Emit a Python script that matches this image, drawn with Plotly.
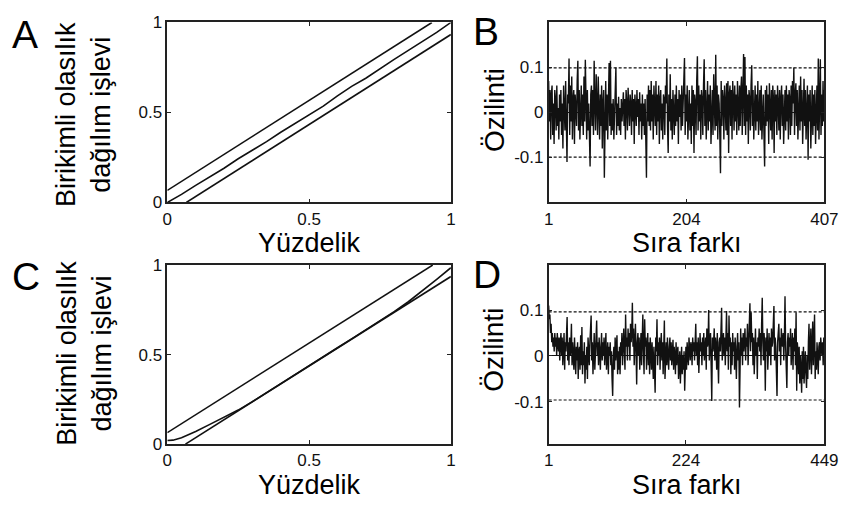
import plotly.graph_objects as go

# ---------------- data ----------------
# Panel A: empirical CDF vs percentile, with KS confidence bounds
pct_A = [0, .05, .1, .15, .2, .25, .3, .35, .4, .45, .5, .55, .6, .65, .7, .75, .8, .85, .9, .95, 1]
cdf_A = [0, .045, .095, .142, .19, .243, .29, .338, .39, .438, .49, .535, .592, .645, .69, .745, .795, .845, .893, .945, 1]
upper_A_x = [0.0, 0.933]
upper_A_y = [0.067, 1.0]
lower_A_x = [0.067, 1.0]
lower_A_y = [0.0, 0.933]

# Panel C
pct_C = [0, .02, .05, .1, .15, .2, .25, .3, .35, .4, .45, .5, .55, .6, .65, .7, .75, .8, .85, .9, .95, 1]
cdf_C = [.02, .022, .035, .07, .11, .15, .19, .237, .288, .337, .387, .437, .487, .538, .588, .638, .69, .74, .795, .855, .92, .985]
upper_C_x = [0.0, 0.936]
upper_C_y = [0.064, 1.0]
lower_C_x = [0.064, 1.0]
lower_C_y = [0.0, 0.936]

# Panel B: autocorrelation, 407 lags
acf_B = [
    0.07, -0.02, 0.05, -0.06, 0.04, 0.06, -0.05, 0.02, -0.07, 0.05,
    0.03, -0.04, 0.06, -0.03, 0.01, -0.06, 0.04, -0.02, 0.05, -0.05,
    0.02, -0.08, 0.06, 0.01, -0.04, 0.07, -0.03, -0.11, 0.04, 0.02,
    0.12, -0.05, 0.06, -0.02, 0.08, -0.06, 0.03, 0.05, -0.07, 0.04,
    0.01, -0.03, 0.07, 0.115, -0.04, 0.05, -0.06, 0.02, 0.06, -0.03,
    0.04, -0.05, 0.08, -0.02, 0.117, 0.03, -0.06, 0.05, -0.04, 0.02,
    -0.07, -0.12, 0.04, 0.06, -0.03, 0.05, -0.05, 0.115, 0.02, -0.04,
    0.085, 0.03, -0.05, 0.08, 0.01, -0.06, 0.04, -0.03, 0.06, -0.08,
    0.02, 0.05, -0.145, 0.03, 0.07, -0.04, 0.04, -0.06, 0.06, 0.11,
    -0.03, 0.115, -0.05, 0.02, -0.04, 0.03, -0.06, 0.01, 0.04, 0.1,
    -0.05, 0.02, -0.03, 0.035, -0.04, 0.01, -0.05, 0.03, -0.02, 0.02,
    0.045, -0.03, 0.03, -0.06, 0.05, 0.02, -0.04, 0.055, 0.01, -0.03,
    0.04, 0.02, -0.05, 0.05, -0.02, 0.03, -0.07, 0.04, 0.01, -0.03,
    0.05, -0.01, 0.03, -0.05, 0.045, -0.02, 0.02, -0.06, 0.04, -0.03,
    0.02, -0.05, 0.03, -0.04, -0.145, 0.04, -0.02, 0.06, -0.03, 0.05,
    -0.04, 0.07, -0.02, 0.04, -0.06, 0.06, 0.02, -0.03, 0.07, -0.05,
    0.04, -0.02, 0.06, -0.07, 0.03, 0.05, -0.04, 0.02, -0.06, 0.04,
    0.03, -0.05, 0.06, 0.02, 0.12, -0.03, -0.09, 0.04, -0.02, 0.085,
    -0.04, 0.03, -0.06, 0.05, 0.01, -0.05, 0.04, -0.03, 0.06, -0.02,
    0.03, -0.07, 0.05, -0.01, 0.04, -0.04, 0.06, -0.03, 0.02, 0.08,
    0.121, -0.05, 0.04, -0.02, 0.06, -0.06, 0.03, 0.05, -0.04, 0.02,
    -0.07, 0.06, -0.03, 0.05, -0.09, 0.04, 0.02, -0.05, 0.07, 0.125,
    -0.04, 0.06, -0.02, 0.04, -0.06, 0.05, 0.03, -0.05, 0.06, 0.118,
    -0.03, 0.05, -0.06, 0.02, 0.07, -0.04, 0.04, -0.02, 0.06, -0.07,
    0.03, 0.05, -0.05, 0.085, 0.02, -0.04, 0.128, -0.03, 0.06, -0.06,
    0.04, 0.02, -0.05, -0.135, 0.07, -0.03, 0.05, 0.03, -0.06, 0.06,
    0.02, -0.04, 0.065, -0.05, 0.07, -0.09, 0.04, 0.06, -0.03, 0.05,
    -0.06, 0.07, 0.03, -0.04, 0.06, -0.02, 0.04, -0.05, 0.07, 0.02,
    -0.04, 0.06, -0.03, 0.05, 0.08, -0.05, 0.04, 0.13, -0.03, 0.123,
    -0.05, 0.06, -0.02, 0.04, -0.07, 0.05, 0.03, -0.04, 0.06, 0.105,
    -0.03, 0.05, -0.06, 0.02, 0.06, -0.04, 0.04, -0.02, 0.07, -0.05,
    0.03, 0.05, -0.04, 0.06, -0.06, 0.02, 0.04, -0.05, -0.12, 0.05,
    -0.03, 0.06, -0.02, 0.04, -0.07, 0.065, 0.02, -0.04, 0.05, -0.06,
    0.06, 0.03, -0.09, 0.05, -0.02, 0.04, -0.05, 0.06, 0.02, -0.04,
    0.05, -0.06, 0.03, 0.06, -0.03, 0.04, -0.07, 0.02, 0.05, -0.04,
    0.06, -0.02, 0.04, -0.06, 0.05, 0.03, -0.05, 0.06, -0.03, 0.07,
    0.02, 0.1, -0.05, 0.04, 0.065, -0.03, 0.05, -0.06, 0.02, 0.06,
    -0.04, 0.08, -0.02, 0.05, -0.07, 0.04, 0.075, -0.03, 0.05, -0.06,
    0.03, 0.06, -0.105, 0.04, -0.02, 0.05, -0.08, 0.03, 0.06, -0.05,
    0.04, -0.03, 0.05, -0.07, 0.02, 0.06, -0.04, 0.12, -0.06, 0.03,
    0.118, -0.05, 0.04, -0.03, 0.07, -0.02, 0.05,
]
conf_B = 0.099
ticks_B = [1, 204, 407]

# Panel D: autocorrelation, 449 lags
acf_D = [
    0.11, 0.08, 0.09, 0.05, 0.07, 0.03, 0.05, 0.02, 0.04, 0.01,
    0.05, 0.02, 0.04, 0.0, 0.05, 0.03, 0.01, 0.04, -0.01, 0.03,
    0.05, 0.0, 0.04, -0.02, 0.02, 0.05, -0.03, 0.03, 0.01, 0.06,
    0.085, -0.01, 0.03, -0.02, 0.04, 0.0, 0.02, 0.07, -0.02, 0.03,
    0.01, -0.03, 0.04, 0.0, -0.04, 0.02, -0.01, 0.03, -0.05, 0.01,
    0.02, -0.03, 0.045, -0.02, 0.063, -0.04, 0.01, -0.02, 0.03, -0.06,
    0.0, -0.03, 0.02, -0.05, 0.04, 0.01, -0.02, 0.03, 0.06, 0.088,
    -0.01, 0.03, -0.04, 0.02, 0.05, -0.03, 0.01, 0.04, 0.077, 0.0,
    0.03, -0.02, 0.04, 0.01, -0.03, 0.02, 0.05, -0.01, 0.03, 0.0,
    0.04, -0.02, 0.02, 0.05, -0.03, 0.01, 0.03, -0.04, 0.02, 0.0,
    0.03, -0.02, 0.01, -0.05, -0.087, 0.0, 0.02, -0.03, 0.04, -0.01,
    0.02, 0.045, -0.04, 0.01, -0.03, 0.02, -0.04, 0.03, 0.0, 0.05,
    -0.02, 0.03, 0.06, 0.01, -0.03, 0.09, 0.02, 0.04, -0.01, 0.06,
    0.02, 0.05, -0.01, 0.07, 0.03, 0.05, 0.116, 0.02, 0.06, -0.02,
    0.04, 0.07, 0.01, -0.062, 0.03, 0.05, 0.0, 0.04, -0.03, 0.02,
    0.05, -0.02, 0.03, 0.09, 0.01, -0.04, 0.08, 0.02, 0.04, -0.03,
    0.02, 0.05, -0.02, 0.03, -0.04, 0.04, 0.01, -0.03, 0.03, 0.0,
    -0.05, 0.02, -0.03, -0.08, 0.04, 0.01, 0.08, -0.02, 0.03, 0.0,
    0.04, -0.03, 0.02, 0.05, -0.01, 0.03, -0.04, 0.02, 0.077, -0.05,
    0.01, 0.03, -0.02, 0.04, 0.0, -0.03, 0.02, 0.04, -0.01, 0.03,
    -0.02, 0.01, 0.035, -0.03, 0.02, 0.0, -0.04, 0.03, -0.02, 0.01,
    0.02, -0.05, -0.03, 0.01, -0.06, -0.02, 0.02, -0.04, 0.0, -0.03,
    0.01, -0.076, -0.02, 0.02, -0.03, 0.03, 0.0, -0.02, 0.04, 0.01,
    -0.01, 0.03, 0.02, -0.02, 0.04, 0.01, 0.03, -0.01, 0.05, 0.07,
    0.0, 0.03, -0.02, 0.04, -0.037, 0.02, 0.05, 0.01, 0.03, -0.02,
    0.04, 0.0, 0.05, -0.01, 0.02, 0.04, -0.03, 0.06, 0.02, 0.03,
    0.1, -0.01, 0.03, 0.05, -0.02, -0.098, 0.04, 0.01, 0.03, 0.06,
    -0.01, 0.04, 0.02, -0.03, 0.05, 0.0, -0.06, 0.03, 0.04, 0.01,
    0.06, 0.105, -0.01, 0.03, 0.05, 0.0, 0.04, -0.02, 0.02, 0.098,
    0.01, 0.05, -0.03, 0.088, 0.02, 0.04, -0.04, 0.03, -0.02, 0.05,
    0.01, 0.03, -0.03, 0.04, 0.0, -0.05, 0.02, 0.05, -0.01, 0.03,
    -0.112, 0.02, 0.06, 0.0, 0.04, -0.02, 0.05, 0.01, 0.03, 0.06,
    -0.01, 0.04, 0.02, 0.07, -0.02, 0.05, 0.09, 0.115, 0.01, 0.095,
    0.03, 0.05, -0.02, 0.04, -0.04, 0.02, 0.06, 0.0, 0.03, -0.05,
    0.04, 0.02, 0.06, 0.01, 0.05, -0.02, 0.07, 0.127, 0.03, -0.01,
    0.05, 0.02, -0.076, 0.04, 0.01, 0.06, -0.03, 0.03, 0.05, 0.0,
    0.04, -0.02, 0.06, 0.02, 0.03, 0.07, 0.109, -0.01, 0.04, 0.02,
    -0.05, -0.087, 0.03, 0.05, 0.07, 0.01, 0.04, -0.02, 0.06, 0.03,
    0.02, 0.05, -0.01, 0.04, 0.13, 0.02, -0.04, -0.07, 0.03, 0.05,
    0.0, 0.04, 0.02, 0.06, -0.02, 0.03, 0.05, -0.03, 0.04, 0.01,
    0.06, -0.02, 0.095, -0.076, 0.03, 0.01, -0.04, 0.02, -0.06, 0.0,
    -0.03, -0.08, 0.01, -0.05, 0.02, -0.06, -0.02, 0.01, -0.04, -0.07,
    0.0, -0.05, 0.03, 0.07, -0.03, 0.01, 0.06, -0.04, 0.02, 0.075,
    -0.02, 0.04, 0.09, -0.05, 0.01, -0.03, 0.03, 0.0, -0.04, 0.02,
    0.03, -0.01, 0.04, 0.02, 0.0, 0.03, -0.02, 0.04, 0.02,
]
conf_D = 0.096
ticks_D = [1, 224, 449]

lags_B = list(range(1, len(acf_B) + 1))
lags_D = list(range(1, len(acf_D) + 1))

# ---------------- figure ----------------
W, H = 856, 508
FONT = "Liberation Sans, Arial, sans-serif"
INK = "#111111"

fig = go.Figure()

def add_cdf(xa, ya, pct, cdf, ux, uy, lx, ly):
    for xs, ys in ((ux, uy), (lx, ly), (pct, cdf)):
        fig.add_trace(go.Scatter(x=xs, y=ys, mode="lines", xaxis=xa, yaxis=ya,
                                 line=dict(color=INK, width=1.6), showlegend=False,
                                 hoverinfo="skip"))

def add_acf(xa, ya, lags, acf, conf):
    fig.add_trace(go.Scatter(x=lags, y=acf, mode="lines", xaxis=xa, yaxis=ya,
                             line=dict(color=INK, width=1.4), showlegend=False))
    for c in (conf, -conf):
        fig.add_trace(go.Scatter(x=[lags[0], lags[-1]], y=[c, c], mode="lines",
                                 xaxis=xa, yaxis=ya,
                                 line=dict(color=INK, width=1.2, dash="3px,2px"),
                                 showlegend=False, hoverinfo="skip"))

add_cdf("x", "y", pct_A, cdf_A, upper_A_x, upper_A_y, lower_A_x, lower_A_y)
add_acf("x2", "y2", lags_B, acf_B, conf_B)
add_cdf("x3", "y3", pct_C, cdf_C, upper_C_x, upper_C_y, lower_C_x, lower_C_y)
add_acf("x4", "y4", lags_D, acf_D, conf_D)

def px_x(a, b):
    return [a / W, b / W]

def px_y(top, bottom):
    return [1 - bottom / H, 1 - top / H]

axis_common = dict(showline=True, linecolor="#222222", linewidth=1.6, mirror="ticks",
                   ticks="inside", ticklen=4, tickwidth=1, tickcolor="#222222",
                   showgrid=False, zeroline=False,
                   tickfont=dict(family=FONT, size=17, color="#111111"))

dom_left = px_x(166, 456)
dom_right = px_x(556, 838)
dom_top = px_y(14, 201)
dom_bot = px_y(266, 452)

cdf_ticks = [0, 0.5, 1]
cdf_text = ["0", "0.5", "1"]
acf_yticks = [-0.1, 0, 0.1]
acf_ytext = ["-0.1", "0", "0.1"]

fig.update_layout(
    width=W, height=H, margin=dict(l=0, r=0, t=0, b=0),
    paper_bgcolor="white", plot_bgcolor="white", showlegend=False,
    xaxis=dict(domain=dom_left, anchor="y", range=[0, 1], tickvals=cdf_ticks, ticktext=cdf_text, **axis_common),
    yaxis=dict(domain=dom_top, anchor="x", range=[0, 1], tickvals=cdf_ticks, ticktext=cdf_text, **axis_common),
    xaxis2=dict(domain=dom_right, anchor="y2", range=[1, len(acf_B)], tickvals=ticks_B,
                ticktext=[str(t) for t in ticks_B], **axis_common),
    yaxis2=dict(domain=dom_top, anchor="x2", range=[-0.2, 0.2], tickvals=acf_yticks, ticktext=acf_ytext, **axis_common),
    xaxis3=dict(domain=dom_left, anchor="y3", range=[0, 1], tickvals=cdf_ticks, ticktext=cdf_text, **axis_common),
    yaxis3=dict(domain=dom_bot, anchor="x3", range=[0, 1], tickvals=cdf_ticks, ticktext=cdf_text, **axis_common),
    xaxis4=dict(domain=dom_right, anchor="y4", range=[1, len(acf_D)], tickvals=ticks_D,
                ticktext=[str(t) for t in ticks_D], **axis_common),
    yaxis4=dict(domain=dom_bot, anchor="x4", range=[-0.192, 0.198], tickvals=acf_yticks, ticktext=acf_ytext, **axis_common),
)
fig.update_yaxes(selector=dict(anchor="x2"), zeroline=True, zerolinecolor=INK, zerolinewidth=1.2)
fig.update_yaxes(selector=dict(anchor="x4"), zeroline=True, zerolinecolor=INK, zerolinewidth=1.2)

def ann(text, x, y, size, angle=0, xanchor="center", yanchor="middle"):
    fig.add_annotation(text=text, x=x / W, y=1 - y / H, xref="paper", yref="paper",
                       showarrow=False, textangle=angle, xanchor=xanchor, yanchor=yanchor,
                       font=dict(family=FONT, size=size, color="#000000"))

# panel letters
ann("A", 5, 27, 39, xanchor="left")
ann("B", 477, 23, 39, xanchor="left")
ann("C", 5, 278, 39, xanchor="left")
ann("D", 477, 276, 39, xanchor="left")

# axis titles
ytitle_cdf = "Birikimli olasılık<br>dağılım işlevi"
ann(ytitle_cdf, 81, 110, 27, angle=-90)
ann(ytitle_cdf, 81, 358, 27, angle=-90)
ann("Özilinti", 500, 105, 28, angle=-90)
ann("Özilinti", 500, 354, 28, angle=-90)
ann("Yüzdelik", 311, 243.5, 27)
ann("Yüzdelik", 311, 494.5, 27)
ann("Sıra farkı", 697, 243.5, 27)
ann("Sıra farkı", 697, 494, 27)

fig.write_html("out.html")
